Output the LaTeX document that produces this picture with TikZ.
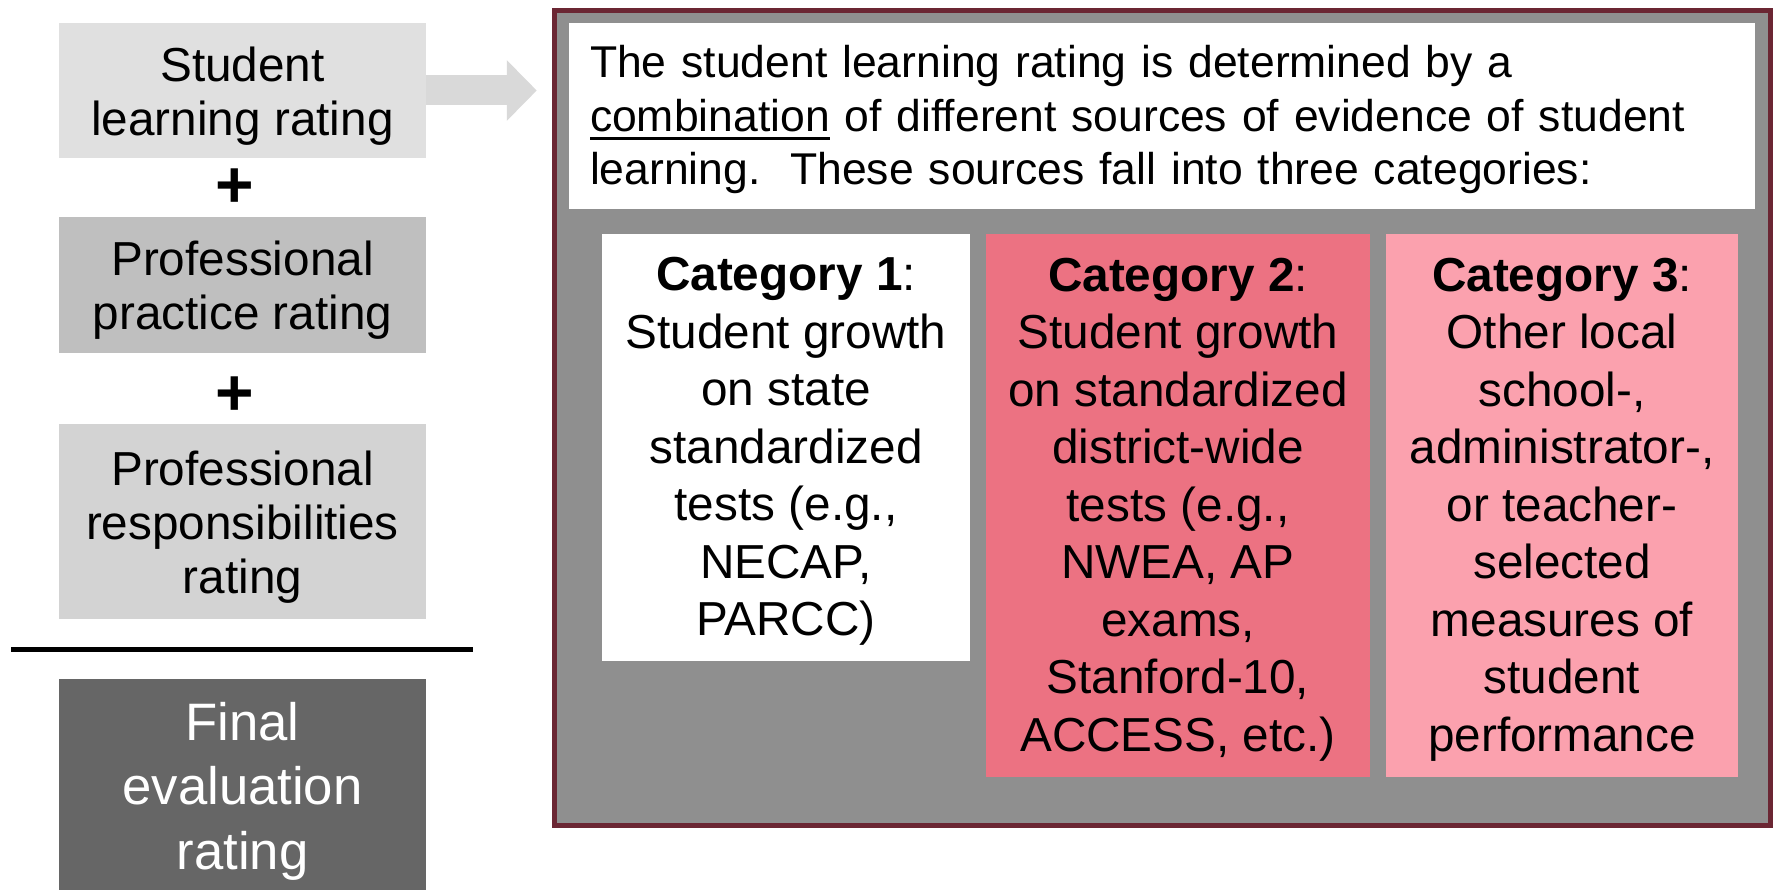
\documentclass[tikz,border=0pt]{standalone}
\usepackage{fontspec}
\setmainfont{Liberation Sans}
\usetikzlibrary{arrows.meta}

\definecolor{slrgray}{HTML}{E0E0E0}
\definecolor{pprgray}{HTML}{BFBFBF}
\definecolor{prrgray}{HTML}{D3D3D3}
\definecolor{finalgray}{HTML}{666666}
\definecolor{arrowgray}{HTML}{D9D9D9}
\definecolor{framegray}{HTML}{8F8F8F}
\definecolor{framered}{HTML}{6B2633}
\definecolor{cattwo}{HTML}{EC7282}
\definecolor{catthree}{HTML}{FBA1AE}

% invisible strut on the first line, to push the text a little lower
\newcommand{\toppad}[1]{\rule{0pt}{#1}}
% thicker underline
\newcommand{\thickul}[1]{\leavevmode\setbox1\hbox{#1}\rlap{\rule[-8.5pt]{\wd1}{3pt}}\box1\relax}

\tikzstyle{rating}=[minimum width=367pt,inner sep=0pt,align=center,font=\fontsize{47.7}{54}\selectfont]
\tikzstyle{plussign}=[inner sep=0pt,font=\fontsize{66}{66}\selectfont\bfseries]
\tikzstyle{category}=[minimum height=543pt,inner sep=0pt,align=center,font=\fontsize{47.7}{57.5}\selectfont]
\tikzstyle{bigarrow}=[draw=arrowgray,line width=30pt,-{Triangle[length=30pt,width=59pt]}]

\begin{document}
\begin{tikzpicture}[x=1pt,y=-1pt]
   \useasboundingbox (0,0) rectangle (1775,890);

   % Ratings column

   \draw (242.5,90.5) node[rating,fill=slrgray,minimum height=135pt] (slr) {\toppad{45pt}Student\\learning rating};
   \draw (234.5,188) node[plussign] (plusa) {+};
   \draw (242.5,285) node[rating,fill=pprgray,minimum height=136pt] (ppr) {\toppad{44pt}Professional\\practice rating};
   \draw (234.5,396) node[plussign] (plusb) {+};
   \draw (242.5,521.5) node[rating,fill=prrgray,minimum height=195pt] (prr) {\toppad{45pt}Professional\\responsibilities\\rating};

   \coordinate (suml) at (11,649);
   \coordinate (sumr) at (473,649);
   \draw[line width=5pt] (suml) -- (sumr);

   \draw (242.5,784.5) node[rating,fill=finalgray,text=white,minimum height=211pt,
      font=\fontsize{52.7}{64.5}\selectfont] (final) {\toppad{51pt}Final\\evaluation\\rating};

   % Student learning frame

   \draw (1162.5,418) node[draw=framered,fill=framegray,line width=5.5pt,inner sep=0pt,
      minimum width=1216pt,minimum height=815pt] (frame) {};

   \draw[bigarrow] (slr.east) -- ([xshift=-15pt]slr.east -| frame.west);

   \draw (1162,116) node[fill=white,inner xsep=21pt,inner ysep=0pt,text width=1144pt,
      minimum height=186pt,align=left,font=\fontsize{44.5}{53.5}\selectfont] (intro)
      {\toppad{40pt}The student learning rating is determined by a\\
       \thickul{combination} of different sources of evidence of student\\
       learning.\ \ These sources fall into three categories:};

   % Categories

   \draw (786,447.5) node[category,fill=white,minimum width=368pt,minimum height=427pt] (catA)
      {\toppad{41.5pt}\textbf{Category 1}:\\Student growth\\on state\\standardized\\tests (e.g.,\\NECAP,\\PARCC)};
   \draw (1178,505.5) node[category,fill=cattwo,minimum width=384pt] (catB)
      {\toppad{41.5pt}\textbf{Category 2}:\\Student growth\\on standardized\\district-wide\\tests (e.g.,\\NWEA, AP\\exams,\\Stanford-10,\\ACCESS, etc.)};
   \draw (1562,505.5) node[category,fill=catthree,minimum width=352pt] (catC)
      {\toppad{41.5pt}\textbf{Category 3}:\\Other local\\school-,\\administrator-,\\or teacher-\\selected\\measures of\\student\\performance};

\end{tikzpicture}
\end{document}
